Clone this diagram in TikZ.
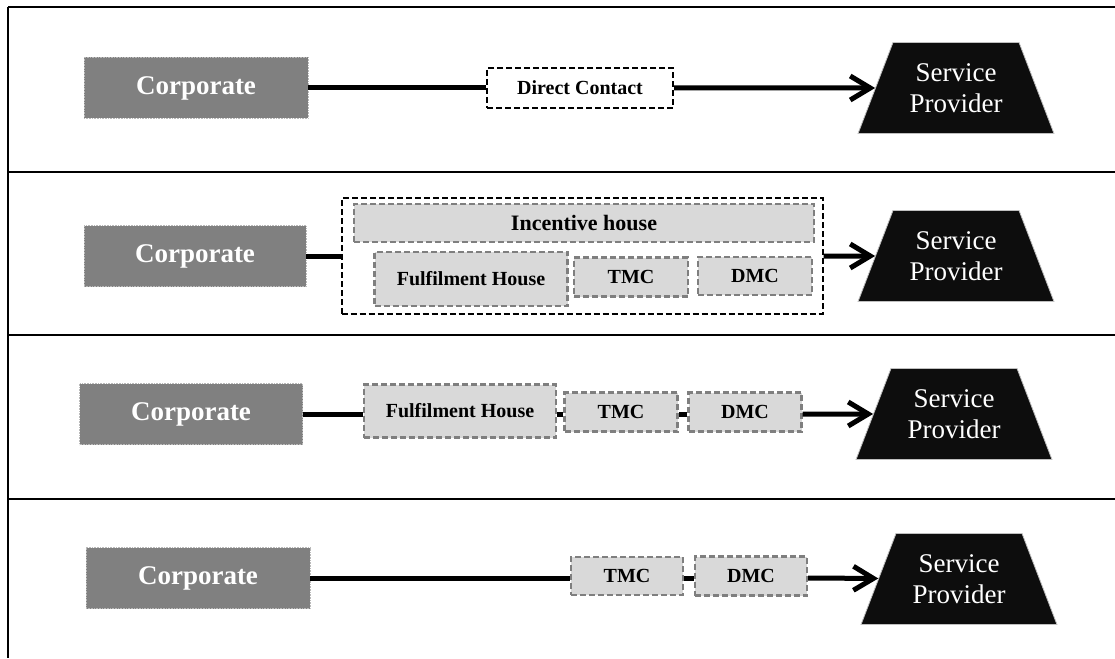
\documentclass[tikz,border=0pt]{standalone}
\usepackage{fontspec}
\setmainfont{Liberation Serif}
\usetikzlibrary{shapes.geometric,arrows.meta}
\definecolor{corpgray}{HTML}{808080}
\definecolor{boxgray}{HTML}{D9D9D9}
\definecolor{dashgray}{HTML}{7F7F7F}

\begin{document}
\begin{tikzpicture}[x=1pt,y=-1pt,
    rowline/.style={line width=2.5pt},
    corp/.style={fill=corpgray, draw=gray!55, densely dotted, line width=0.6pt, text=white,
      font=\fontsize{27}{30}\selectfont\bfseries, minimum width=224pt, minimum height=61pt, inner sep=0pt},
    gbox/.style={fill=boxgray, draw=dashgray, line width=2.2pt, dash pattern=on 6pt off 3pt,
      font=\fontsize{20}{22}\selectfont\bfseries, inner sep=0pt},
    wbox/.style={fill=white, draw=black, line width=2pt, dash pattern=on 6pt off 3pt,
      font=\fontsize{20}{22}\selectfont\bfseries, inner sep=0pt},
    spnode/.style={trapezium, trapezium angle=69, fill=black!95, draw=gray!50, line width=0.8pt,
      text=white, align=center, inner xsep=16.5pt, inner ysep=21pt, font=\fontsize{27}{31}\selectfont},
    link/.style={line width=5pt},
    arr/.style={link, -{Straight Barb[length=20pt,width=24pt]}}]
      \useasboundingbox (0,0) rectangle (1115,658) ;
      % frame of the four rows
      \draw[rowline] (8,7) -- (1115,7) ;
      \draw[rowline] (8,7) -- (8,658) ;
      \draw[rowline] (8,172) -- (1115,172) ;
      \draw[rowline] (8,335) -- (1115,335) ;
      \draw[rowline] (8,499) -- (1115,499) ;
      % row 1
      \node[corp] (corpA) at (196,88) {Corporate} ;
      \node[wbox,minimum width=186pt,minimum height=40pt] (dcA) at (580,88) {Direct Contact} ;
      \node[spnode] (spA) at (956,88) {Service\\Provider} ;
      \draw[link] (corpA) -- (dcA) ;
      \draw[arr] (dcA) -- (spA) ;
      % row 2
      \node[corp,minimum width=222pt] (corpB) at (195,256) {Corporate} ;
      \node[wbox,fill=none,minimum width=481pt,minimum height=116pt] (outB) at (582,256) {} ;
      \node[gbox,minimum width=460pt,minimum height=38pt,font=\fontsize{22}{24}\selectfont\bfseries] (ihB) at (584,223) {Incentive house} ;
      \node[gbox,minimum width=193pt,minimum height=54pt] (fhB) at (471,279) {Fulfilment House} ;
      \node[gbox,minimum width=114pt,minimum height=39pt] (tmcB) at (631,277) {TMC} ;
      \node[gbox,minimum width=114pt,minimum height=38pt] (dmcB) at (755,276) {DMC} ;
      \node[spnode] (spB) at (956,256) {Service\\Provider} ;
      \draw[link] (corpB) -- (outB) ;
      \draw[arr] (outB) -- (spB) ;
      % row 3
      \node[corp,minimum width=223pt] (corpC) at (191,414) {Corporate} ;
      \node[gbox,minimum width=192pt,minimum height=53pt] (fhC) at (460,411) {Fulfilment House} ;
      \node[gbox,minimum width=113pt,minimum height=39pt] (tmcC) at (621,412) {TMC} ;
      \node[gbox,minimum width=113pt,minimum height=39pt] (dmcC) at (745,412) {DMC} ;
      \node[spnode] (spC) at (954,414) {Service\\Provider} ;
      \draw[link] (corpC) -- (corpC -| fhC.west) ;
      \draw[link] (fhC.east |- corpC) -- (corpC -| tmcC.west) ;
      \draw[link] (tmcC.east |- corpC) -- (corpC -| dmcC.west) ;
      \draw[arr] (dmcC.east |- corpC) -- (spC) ;
      % row 4
      \node[corp] (corpD) at (198,578) {Corporate} ;
      \node[gbox,minimum width=112pt,minimum height=38pt] (tmcD) at (627,576) {TMC} ;
      \node[gbox,minimum width=112pt,minimum height=39pt] (dmcD) at (751,576) {DMC} ;
      \node[spnode] (spD) at (959,579) {Service\\Provider} ;
      \draw[link] (corpD) -- (corpD -| tmcD.west) ;
      \draw[link] (tmcD.east |- corpD) -- (corpD -| dmcD.west) ;
      \draw[arr] (dmcD.east |- corpD) -- (spD) ;
    \end{tikzpicture}
\end{document}
